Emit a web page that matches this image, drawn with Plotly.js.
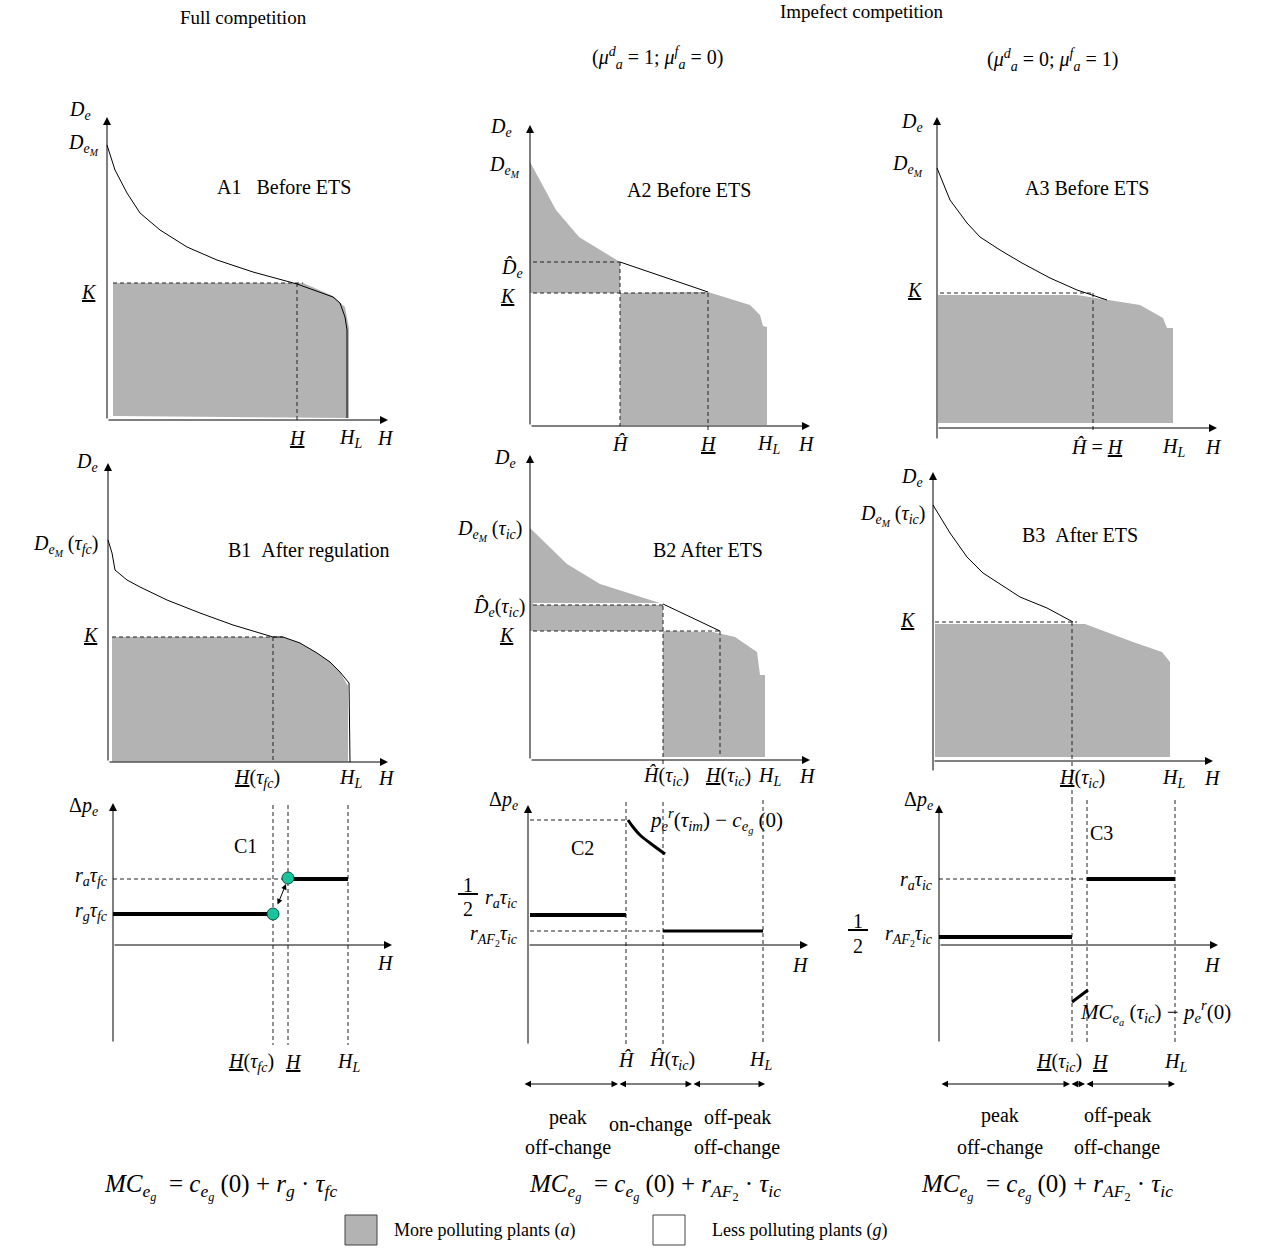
<!DOCTYPE html>
<html><head><meta charset="utf-8">
<script src="https://cdn.plot.ly/plotly-3.0.1.min.js"></script>
<style>html,body{margin:0;padding:0;background:#fff}</style>
</head><body>
<div id="chart" style="width:1262px;height:1254px"></div>
<script>
// ================= DATA (units of each small diagram) =================
// A1 full competition, before ETS
const A1_curveH = [0, 0.8, 2, 3.3, 5.3, 8, 11, 14.6, 19, 21.3, 22.6, 23.3, 23.8, 24, 24];
const A1_curveD = [27.5, 25, 22.7, 20.7, 19, 17.3, 16, 14.8, 13.6, 12.8, 12.3, 11.7, 10.3, 9, 0.2];
const A1_grayH = [0.6, 0.6, 19.6, 22.6, 23.8, 24.2, 24.2];
const A1_grayD = [0.4, 13.7, 13.7, 12.4, 11.3, 9.2, 0.2];
const A1_K = 13.7, A1_Hbar = 19, A1_HL = 24;
// A2 imperfect competition (mu_d=1), before ETS
const A2_upperH = [0, 2.6, 4.9, 9];
const A2_upperD = [26.4, 21.6, 18.9, 16.4];
const A2_lineH = [9, 17.8];
const A2_lineD = [16.4, 13.4];
const A2_lowerH = [9, 17.8, 22, 23, 23.3, 23.7, 23.7];
const A2_lowerD = [13.3, 13.4, 12.1, 11.1, 10, 9.9, 0.1];
const A2_Dhat = 16.4, A2_K = 13.3, A2_Hhat = 9, A2_Hbar = 17.8, A2_HL = 23.7;
// A3 imperfect competition (mu_f=1), before ETS
const A3_curveH = [0, 1.3, 3, 4.3, 6.3, 8.5, 11.3, 14, 17];
const A3_curveD = [26, 22.8, 20.5, 19.1, 17.8, 16.5, 15, 13.8, 12.8];
const A3_grayH = [0.1, 0.1, 14, 17, 20.3, 22.6, 23, 23.6, 23.6];
const A3_grayD = [0.5, 13.3, 13.3, 12.8, 12.3, 11, 10, 10, 0.5];
const A3_K = 13.5, A3_Hbar = 15.6, A3_HL = 23.6;
// B1 after regulation
const B1_curveH = [0, 0.4, 0.7, 1.9, 3.2, 5.9, 9.2, 12.5, 16.5, 17.5, 19.2, 20.9, 22.2, 23.2, 24.1, 24.2];
const B1_curveD = [22.2, 20.9, 19.2, 18.2, 17.5, 16.2, 14.9, 13.7, 12.5, 12.5, 11.9, 10.9, 10, 9, 7.9, 0];
const B1_grayH = [0.4, 0.4, 17.5, 19.2, 20.9, 22.2, 23.2, 24, 24];
const B1_grayD = [0.05, 12.5, 12.5, 11.9, 10.9, 10, 9, 7.6, 0.05];
const B1_K = 12.5, B1_Hbar = 16.5, B1_HL = 24.2;
// B2 after ETS
const B2_upperH = [0, 3.7, 7, 13.3];
const B2_upperD = [23.2, 19.6, 17.6, 15.6];
const B2_lineH = [13.3, 19];
const B2_lineD = [15.6, 12.9];
const B2_lowerH = [13.3, 18.3, 20.5, 22.7, 23, 23.5, 23.5];
const B2_lowerD = [12.9, 12.8, 12.3, 10.8, 8.5, 8.5, 0.3];
const B2_Dhat = 15.6, B2_K = 12.9, B2_Hhat = 13.3, B2_Hbar = 19, B2_HL = 23.5;
// B3 after ETS
const B3_curveH = [0, 1.7, 3.4, 5, 8.7, 11.4, 14];
const B3_curveD = [25.6, 22.8, 20.4, 18.8, 16.4, 15.3, 13.9];
const B3_grayH = [0.2, 0.2, 15.2, 20, 22.9, 23.7, 23.7];
const B3_grayD = [0.4, 13.7, 13.7, 11.9, 10.9, 9.9, 0.4];
const B3_K = 13.9, B3_Hbar = 13.9, B3_HL = 23.7;
// C1 price effects, full competition
const C1_ra = 6.6, C1_rg = 3.1, C1_Hbar_fc = 16, C1_Hbar = 17.5, C1_HL = 23.5;
const C1_pointH = [16, 17.5];
const C1_pointP = [3.1, 6.7];
// C2 price effects, mu_d = 1
const C2_top = 12.5, C2_halfRa = 3, C2_rAF2 = 1.4, C2_Hhat = 9.8, C2_HhatIc = 13.5, C2_HL = 23.5;
const C2_curveH = [10, 10.5, 11.2, 12.2, 13.7];
const C2_curveP = [12.5, 11.8, 11, 10.2, 9.1];
const C2_regimeH = [-0.5, 9, 16.4, 23.7];
// C3 price effects, mu_f = 1
const C3_ra = 6.6, C3_halfRAF2 = 0.8, C3_HbarIc = 13.3, C3_Hbar = 14.8, C3_HL = 23.6;
const C3_segH = [13.3, 14.9];
const C3_segP = [-5.7, -4.5];
const C3_regimeH = [0.1, 13.1, 14.6, 23.6];

// ================= LAYOUT HELPERS =================
const W = 1262, HT = 1254, S = 10;
const FONT = 'Liberation Serif, Times New Roman, serif';
const GRAY = '#b3b3b3';
const P = {
  A1:{n:1, ox:107, oy:420, box:[0,80,420,450], yb:0, yt:30.3, xt:28.1},
  A2:{n:2, ox:530, oy:426, box:[420,80,840,450], yb:0, yt:30.1, xt:28},
  A3:{n:3, ox:937, oy:428, box:[840,80,1262,450], yb:-1.2, yt:31.1, xt:28},
  B1:{n:4, ox:108, oy:762, box:[0,450,420,800], yb:0, yt:29.9, xt:28},
  B2:{n:5, ox:530, oy:760, box:[420,450,840,800], yb:0, yt:30.5, xt:28},
  B3:{n:6, ox:933, oy:761, box:[840,450,1262,800], yb:-1.1, yt:28.9, xt:28},
  C1:{n:7, ox:113, oy:945, box:[0,800,420,1165], yb:-9.8, yt:14.2, xt:27.9},
  C2:{n:8, ox:528, oy:945, box:[420,800,840,1165], yb:-10, yt:14, xt:28},
  C3:{n:9, ox:939, oy:945, box:[840,800,1262,1165], yb:-9.8, yt:14, xt:27.9}
};
const layout = {width:W, height:HT, margin:{l:0,r:0,t:0,b:0}, paper_bgcolor:'#fff', plot_bgcolor:'rgba(0,0,0,0)',
  showlegend:false, annotations:[], shapes:[], font:{family:FONT, size:20, color:'#000'}};
for (const k in P) {
  const p = P[k], sfx = p.n === 1 ? '' : String(p.n);
  p.xa = 'x' + sfx; p.ya = 'y' + sfx;
  const [l, t, r, b] = p.box;
  layout['xaxis' + sfx] = {domain:[l/W, r/W], range:[(l-p.ox)/S, (r-p.ox)/S], visible:false, fixedrange:true, anchor:p.ya};
  layout['yaxis' + sfx] = {domain:[1-b/HT, 1-t/HT], range:[(p.oy-b)/S, (p.oy-t)/S], visible:false, fixedrange:true, anchor:p.xa};
}
const traces = [];
function line(p, xs, ys, o={}) {
  traces.push({type:'scatter', mode:'lines', x:xs, y:ys, xaxis:p.xa, yaxis:p.ya, hoverinfo:'skip',
    line:{color:o.color||'#000', width:o.w||1, dash:o.dash||'solid', shape:o.shape||'linear'}});
}
function area(p, xs, ys) {
  traces.push({type:'scatter', mode:'lines', x:xs, y:ys, xaxis:p.xa, yaxis:p.ya, fill:'toself',
    fillcolor:GRAY, line:{width:0, color:GRAY}, hoverinfo:'skip'});
}
function hdash(p, y, x0, x1) { line(p, [x0, x1], [y, y], {dash:'4px,3px', color:'#222'}); }
function vdash(p, x, y0, y1) { line(p, [x, x], [y0, y1], {dash:'4px,3px', color:'#222'}); }
function label(p, x, y, text, o={}) {
  layout.annotations.push({xref:p.xa, yref:p.ya, x, y, text, showarrow:false,
    xanchor:o.xa||'center', yanchor:o.ya||'middle', font:{family:FONT, size:o.size||20, color:'#000'}});
}
function arrow(p, x0, y0, x1, y1, o={}) {
  layout.annotations.push({xref:p.xa, yref:p.ya, axref:p.xa, ayref:p.ya, x:x1, y:y1, ax:x0, ay:y0, text:'',
    showarrow:true, arrowhead:2, arrowsize:o.size||1.6, arrowwidth:1, arrowcolor:'#000',
    arrowside:o.side||'end', standoff:0, startstandoff:0});
}
function axes(p) { arrow(p, 0, p.yb, 0, p.yt); arrow(p, 0, 0, p.xt, 0); }
function ptext(px, py, text, o={}) {
  layout.annotations.push({xref:'paper', yref:'paper', x:px/W, y:1-py/HT, text, showarrow:false,
    xanchor:o.xa||'center', yanchor:'middle', font:{family:FONT, size:o.size||20, color:'#000'}});
}
const sp = '\u00a0';
// ---- text pieces ----
const De = '<i>D</i><sub><i>e</i></sub>';
const DeM = '<i>D</i><sub><i>e</i><sub><i>M</i></sub></sub>';
const Dhat = '<i>D\u0302</i><sub><i>e</i></sub>';
const Kb = '<u><i>K</i></u>';
const Hs = '<i>H</i>';
const HL = '<i>H</i><sub><i>L</i></sub>';
const Hb = '<u><i>H</i></u>';
const Hh = '<i>\u0124</i>';
const tfc = '<i>\u03c4</i><sub><i>fc</i></sub>';
const tic = '<i>\u03c4</i><sub><i>ic</i></sub>';
const Dp = '\u0394<i>p</i><sub><i>e</i></sub>';
const rAF2 = '<i>r</i><sub><i>AF</i><sub>2</sub></sub>';

// ================= PANEL A1 =================
let p = P.A1;
area(p, A1_grayH, A1_grayD);
hdash(p, A1_K, 0.6, A1_Hbar + 0.6);
vdash(p, A1_Hbar, A1_K, 0);
line(p, A1_curveH, A1_curveD);
axes(p);
label(p, -1.4, 31, De, {xa:'right'});
label(p, -0.6, 27.6, DeM, {xa:'right'});
label(p, 17.7, 23.3, 'A1' + sp + sp + ' Before ETS');
label(p, -0.8, 12.8, Kb, {xa:'right'});
label(p, A1_Hbar, -1.8, Hb);
label(p, A1_HL + 0.3, -1.8, HL);
label(p, 27.8, -1.8, Hs);

// ================= PANEL A2 =================
p = P.A2;
area(p, A2_upperH.concat([A2_Hhat, 0]), A2_upperD.concat([A2_K, A2_K]));
area(p, A2_lowerH.concat([A2_Hhat]), A2_lowerD.concat([0.1]));
hdash(p, A2_Dhat, 0.3, A2_Hhat);
hdash(p, A2_K, 0.3, A2_Hbar);
vdash(p, A2_Hhat, A2_Dhat, 0);
vdash(p, A2_Hbar, A2_K, -0.4);
line(p, A2_lineH, A2_lineD);
axes(p);
label(p, -1.6, 29.9, De, {xa:'right'});
label(p, -0.8, 26, DeM, {xa:'right'});
label(p, 15.9, 23.6, 'A2 Before ETS');
label(p, -0.5, 15.8, Dhat, {xa:'right'});
label(p, -1.2, 13, Kb, {xa:'right'});
label(p, A2_Hhat, -1.8, Hh);
label(p, A2_Hbar, -1.8, Hb);
label(p, A2_HL + 0.1, -1.8, HL);
label(p, 27.6, -1.8, Hs);

// ================= PANEL A3 =================
p = P.A3;
area(p, A3_grayH, A3_grayD);
hdash(p, A3_K, 0.3, A3_Hbar);
vdash(p, A3_Hbar, A3_K, -0.4);
line(p, A3_curveH, A3_curveD);
axes(p);
label(p, -1.2, 30.6, De, {xa:'right'});
label(p, -1.2, 26.3, DeM, {xa:'right'});
label(p, 15, 24, 'A3' + sp + 'Before ETS');
label(p, -1.2, 13.8, Kb, {xa:'right'});
label(p, A3_Hbar + 0.4, -1.9, Hh + ' = ' + Hb);
label(p, A3_HL, -1.9, HL);
label(p, 27.6, -1.9, Hs);

// ================= PANEL B1 =================
p = P.B1;
area(p, B1_grayH, B1_grayD);
hdash(p, B1_K, 0.4, 17.5);
vdash(p, B1_Hbar, B1_K, 0);
line(p, B1_curveH, B1_curveD);
axes(p);
label(p, -0.8, 30, De, {xa:'right'});
label(p, -0.8, 21.7, DeM + ' (' + tfc + ')', {xa:'right'});
label(p, 20.1, 21.2, 'B1' + sp + sp + 'After regulation');
label(p, -0.7, 12.7, Kb, {xa:'right'});
label(p, 14.9, -1.6, Hb + '(' + tfc + ')');
label(p, B1_HL, -1.6, HL);
label(p, 27.8, -1.6, Hs);

// ================= PANEL B2 =================
p = P.B2;
area(p, B2_upperH.concat([B2_Hhat, 0]), B2_upperD.concat([B2_K, B2_K]));
area(p, B2_lowerH.concat([B2_Hhat]), B2_lowerD.concat([0.3]));
line(p, [0.3, B2_Hhat], [B2_Dhat, B2_Dhat], {color:'#fff', w:2});
hdash(p, B2_Dhat - 0.1, 0.3, B2_Hhat);
hdash(p, B2_K, 0.3, B2_Hbar);
vdash(p, B2_Hhat, B2_Dhat - 0.2, -0.5);
vdash(p, B2_Hbar, B2_K, 0.3);
line(p, B2_lineH, B2_lineD);
axes(p);
label(p, -1.2, 30.2, De, {xa:'right'});
label(p, -0.6, 23, DeM + ' (' + tic + ')', {xa:'right'});
label(p, 17.8, 21, 'B2 After ETS');
label(p, -0.3, 15.3, Dhat + '(' + tic + ')', {xa:'right'});
label(p, -1.3, 12.5, Kb, {xa:'right'});
label(p, 13.6, -1.6, Hh + '(' + tic + ')');
label(p, 19.8, -1.6, Hb + '(' + tic + ')');
label(p, B2_HL + 0.4, -1.6, HL);
label(p, 27.7, -1.6, Hs);

// ================= PANEL B3 =================
p = P.B3;
area(p, B3_grayH, B3_grayD);
hdash(p, B3_K, 0.2, B3_Hbar + 0.5);
vdash(p, B3_Hbar, B3_K, -3.9);
line(p, B3_curveH, B3_curveD);
axes(p);
label(p, -0.8, 28.4, De, {xa:'right'});
label(p, -0.6, 24.6, DeM + ' (' + tic + ')', {xa:'right'});
label(p, 14.7, 22.6, 'B3' + sp + sp + 'After ETS');
label(p, -1.5, 14.1, Kb, {xa:'right'});
label(p, B3_Hbar + 1, -1.7, Hb + '(' + tic + ')');
label(p, B3_HL + 0.3, -1.7, HL);
label(p, 27.9, -1.7, Hs);

// ================= PANEL C1 =================
p = P.C1;
hdash(p, C1_ra, 0, C1_Hbar);
vdash(p, C1_Hbar_fc, 14, -10);
vdash(p, C1_Hbar, 14, -10);
vdash(p, C1_HL, 14, -10);
line(p, [0, C1_Hbar_fc], [C1_rg, C1_rg], {w:4});
line(p, [C1_Hbar, C1_HL], [C1_ra, C1_ra], {w:4});
axes(p);
arrow(p, 16.4, 3.9, 17.3, 6.1, {side:'end+start', size:1.1});
traces.push({type:'scatter', mode:'markers', x:C1_pointH, y:C1_pointP, xaxis:p.xa, yaxis:p.ya, hoverinfo:'skip',
  marker:{size:12, color:'#17c49b', line:{color:'#0d5040', width:1}}});
label(p, -1.3, 13.9, Dp, {xa:'right'});
label(p, 13.2, 9.9, 'C1');
label(p, -0.3, 6.9, '<i>r</i><sub><i>a</i></sub>' + tfc, {xa:'right'});
label(p, -0.3, 3.4, '<i>r</i><sub><i>g</i></sub>' + tfc, {xa:'right'});
label(p, 27.2, -1.8, Hs);
label(p, C1_Hbar_fc - 2.2, -11.7, Hb + '(' + tfc + ')');
label(p, C1_Hbar + 0.5, -11.7, Hb);
label(p, C1_HL, -11.7, HL);

// ================= PANEL C2 =================
p = P.C2;
hdash(p, C2_top, 0.2, C2_Hhat);
hdash(p, C2_rAF2, 0.2, C2_HhatIc);
vdash(p, C2_Hhat, 15, -10);
vdash(p, C2_HhatIc, 15, -10);
vdash(p, C2_HL, 14.5, -10);
line(p, [0.2, C2_Hhat], [C2_halfRa, C2_halfRa], {w:4});
line(p, [C2_HhatIc, C2_HL], [C2_rAF2, C2_rAF2], {w:3});
line(p, C2_curveH, C2_curveP, {w:3, shape:'spline'});
axes(p);
label(p, -0.8, 14.5, Dp, {xa:'right'});
label(p, 5.4, 9.7, 'C2');
label(p, 11.9, 12.5, '<i>p</i><sub><i>e</i></sub><sup><i>r</i></sup>(<i>\u03c4</i><sub><i>im</i></sub>) \u2212 <i>c</i><sub><i>e</i><sub><i>g</i></sub></sub> (0)', {xa:'left', size:21});
label(p, -6, 6.0, '<u>' + sp + '1' + sp + '</u>');
label(p, -6, 3.6, '2');
label(p, -0.8, 4.7, '<i>r</i><sub><i>a</i></sub>' + tic, {xa:'right'});
label(p, -0.8, 1.0, rAF2 + tic, {xa:'right'});
label(p, 27.2, -2, Hs);
label(p, C2_Hhat, -11.5, Hh);
label(p, C2_HhatIc + 0.9, -11.5, Hh + '(' + tic + ')');
label(p, C2_HL - 0.3, -11.5, HL);
for (let i = 0; i < C2_regimeH.length - 1; i++) arrow(p, C2_regimeH[i], -13.9, C2_regimeH[i+1], -13.9, {side:'end+start', size:1.3});
label(p, 4, -17.2, 'peak');
label(p, 4, -20.2, 'off-change');
label(p, 12.2, -17.9, 'on-change');
label(p, 20.9, -17.2, 'off-peak');
label(p, 20.9, -20.2, 'off-change');

// ================= PANEL C3 =================
p = P.C3;
hdash(p, C3_ra, 0, C3_Hbar);
vdash(p, C3_HbarIc, 14.5, -9.8);
vdash(p, C3_Hbar, 14.5, -9.8);
vdash(p, C3_HL, 14.5, -9.8);
line(p, [C3_Hbar, C3_HL], [C3_ra, C3_ra], {w:4});
line(p, [0, C3_HbarIc], [C3_halfRAF2, C3_halfRAF2], {w:4});
line(p, C3_segH, C3_segP, {w:3});
axes(p);
label(p, -0.4, 14.5, Dp, {xa:'right'});
label(p, 14.9, 11.2, 'C3', {xa:'left'});
label(p, -0.4, 6.5, '<i>r</i><sub><i>a</i></sub>' + tic, {xa:'right'});
label(p, -8.1, 2.4, '<u>' + sp + '1' + sp + '</u>');
label(p, -8.1, -0.1, '2');
label(p, -0.4, 1.0, rAF2 + tic, {xa:'right'});
label(p, 27.3, -2, Hs);
label(p, 13.9, -6.7, '<i>MC</i><sub><i>e</i><sub><i>a</i></sub></sub> (' + tic + ') \u2212 <i>p</i><sub><i>e</i></sub><sup><i>r</i></sup>(0)', {xa:'left', size:21});
label(p, C3_HbarIc - 1.3, -11.7, Hb + '(' + tic + ')');
label(p, C3_Hbar + 1.3, -11.7, Hb);
label(p, C3_HL, -11.7, HL);
for (let i = 0; i < C3_regimeH.length - 1; i++) arrow(p, C3_regimeH[i], -13.9, C3_regimeH[i+1], -13.9, {side:'end+start', size:1.3});
label(p, 6.1, -17.0, 'peak');
label(p, 6.1, -20.2, 'off-change');
label(p, 17.8, -17.0, 'off-peak');
label(p, 17.8, -20.2, 'off-change');

// ================= TITLES, FORMULAS, LEGEND =================
ptext(243, 18, 'Full competition', {size:19});
ptext(862, 11, 'Impefect competition', {size:19});
ptext(657, 58, '(<i>\u03bc</i><sup><i>d</i></sup><sub><i>a</i></sub> = 1; <i>\u03bc</i><sup><i>f</i></sup><sub><i>a</i></sub> = 0)', {size:20});
ptext(1052, 60, '(<i>\u03bc</i><sup><i>d</i></sup><sub><i>a</i></sub> = 0; <i>\u03bc</i><sup><i>f</i></sup><sub><i>a</i></sub> = 1)', {size:20});
const MCeg = '<i>MC</i><sub><i>e</i><sub><i>g</i></sub></sub>' + sp + ' = <i>c</i><sub><i>e</i><sub><i>g</i></sub></sub> (0) + ';
ptext(220, 1187, MCeg + '<i>r</i><sub><i>g</i></sub> \u00b7 ' + tfc, {size:25});
ptext(655, 1187, MCeg + rAF2 + ' \u00b7 ' + tic, {size:25});
ptext(1047, 1187, MCeg + rAF2 + ' \u00b7 ' + tic, {size:25});
layout.shapes.push({type:'rect', xref:'paper', yref:'paper', x0:345/W, x1:377/W, y0:1-1245/HT, y1:1-1215/HT, fillcolor:GRAY, line:{color:'#444', width:1}});
layout.shapes.push({type:'rect', xref:'paper', yref:'paper', x0:653/W, x1:685/W, y0:1-1245/HT, y1:1-1215/HT, fillcolor:'#fff', line:{color:'#444', width:1}});
ptext(392, 1230, 'More polluting plants (<i>a</i>)', {xa:'left', size:18});
ptext(710, 1230, 'Less polluting plants (<i>g</i>)', {xa:'left', size:18});

Plotly.newPlot('chart', traces, layout, {staticPlot:true, displayModeBar:false});
</script>
</body></html>
